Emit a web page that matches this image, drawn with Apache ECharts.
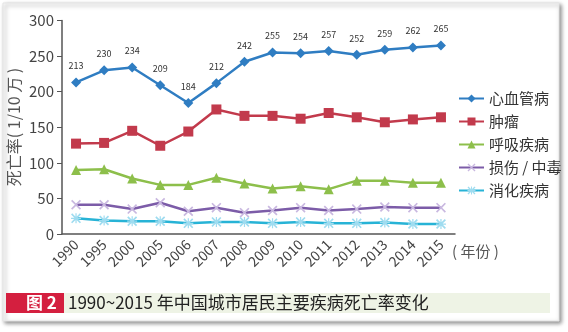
<!DOCTYPE html>
<html><head><meta charset="utf-8">
<script src="https://cdn.jsdelivr.net/npm/echarts@6/dist/echarts.min.js"></script>
<style>html,body{margin:0;padding:0;background:#fff;}#c{width:568px;height:332px;}</style>
</head><body><div id="c"></div>
<script>
const years = ['1990','1995','2000','2005','2006','2007','2008','2009','2010','2011','2012','2013','2014','2015'];
const seriesNames = ['心血管病','肿瘤','呼吸疾病','损伤 / 中毒','消化疾病'];
const cardio = [213,230,234,209,184,212,242,255,254,257,252,259,262,265];
const tumor = [127,128,145,124,144,175,166,166,162,170,164,157,161,164];
const resp = [90,91,78,69,69,79,71,64,67,63,75,75,72,72];
const injury = [41,41,35,44,32,37,30,33,37,33,35,38,37,37];
const digest = [22,19,18,18,15,17,17,15,17,15,15,16,14,14];
const yTicks = {min:0,max:300,interval:50};
const captionTag = '图 2';
const captionText = '1990~2015 年中国城市居民主要疾病死亡率变化';
const yName = '死亡率( 1/10 万 )';
const xName = '( 年份 )';

const font = '"Noto Sans CJK SC","Noto Sans",sans-serif';
const crossPath = 'path://M0,1.2L1.2,0L5,3.8L8.8,0L10,1.2L6.2,5L10,8.8L8.8,10L5,6.2L1.2,10L0,8.8L3.8,5Z';
const starPath = 'path://M0,1.2L1.2,0L5,3.8L8.8,0L10,1.2L6.2,5L10,8.8L8.8,10L5,6.2L1.2,10L0,8.8L3.8,5Z M4.4,0L5.6,0L5.6,10L4.4,10Z M0,4.4L10,4.4L10,5.6L0,5.6Z';
const colors = ['#2f7dc2','#c23a4c','#8dbf4b','#7c5ca8','#27b3d6'];

const chart = echarts.init(document.getElementById('c'), null, {renderer:'canvas'});
function mk(name, data, color, symbol, size, extra){
  return Object.assign({
    name, type:'line', data, symbol, symbolSize:size,
    lineStyle:{color, width:2.5},
    itemStyle:{color},
    emphasis:{disabled:true},
    animation:false
  }, extra||{});
}
chart.setOption({
  animation:false,
  textStyle:{fontFamily:font},
  graphic:[
    {type:'rect', shape:{x:3,y:3,width:556,height:318}, style:{fill:'#fff', stroke:'#e4e4e4', lineWidth:1, shadowBlur:4, shadowOffsetX:2, shadowOffsetY:2, shadowColor:'rgba(0,0,0,0.45)'}, z:-10},
    {type:'rect', shape:{x:6,y:293,width:58,height:20}, style:{fill:'#d41f3f'}, z:1},
    {type:'rect', shape:{x:64,y:293,width:486,height:20}, style:{fill:'#eef3e5'}, z:1},
    {type:'text', x:26, y:303, style:{text:captionTag, fill:'#fff', font:'bold 17px '+font, verticalAlign:'middle'}, z:2},
    {type:'text', x:68, y:303, style:{text:captionText, fill:'#222', font:'17px '+font, verticalAlign:'middle'}, z:2},
    {type:'text', x:452, y:251, style:{text:xName, fill:'#555', font:'15px '+font, verticalAlign:'middle'}, z:2},
    {type:'text', x:14, y:127, rotation:Math.PI/2, style:{text:yName, fill:'#555', font:'16px '+font, align:'center', verticalAlign:'middle'}, z:2}
  ],
  grid:{left:62, right:113, top:20.5, bottom:98, containLabel:false},
  legend:{
    orient:'vertical', left:453, top:86, itemGap:8, itemWidth:25, itemHeight:10,
    textStyle:{fontSize:15, color:'#333', fontFamily:font},
    data:seriesNames
  },
  xAxis:{
    type:'category', data:years, boundaryGap:true,
    axisLine:{lineStyle:{color:'#555', width:1.5}},
    axisTick:{alignWithLabel:true, length:5, lineStyle:{color:'#555'}},
    axisLabel:{rotate:45, fontSize:14, color:'#444', margin:8, interval:0}
  },
  yAxis:{
    type:'value', min:yTicks.min, max:yTicks.max, interval:yTicks.interval,
    axisLine:{show:true, lineStyle:{color:'#555', width:1.5}},
    axisTick:{show:true, length:5, lineStyle:{color:'#555'}},
    splitLine:{show:false},
    axisLabel:{fontSize:15, color:'#444', margin:8}
  },
  series:[
    mk(seriesNames[0], cardio, colors[0], 'diamond', 10, {label:{show:true, position:'top', distance:7, fontSize:9, color:'#333'}}),
    mk(seriesNames[1], tumor, colors[1], 'rect', 10),
    mk(seriesNames[2], resp, colors[2], 'triangle', 10),
    mk(seriesNames[3], injury, colors[3], crossPath, 10, {itemStyle:{color:'#c9b8e0'}}),
    mk(seriesNames[4], digest, colors[4], starPath, 10, {itemStyle:{color:'#9fdcf0'}})
  ]
});
</script></body></html>
